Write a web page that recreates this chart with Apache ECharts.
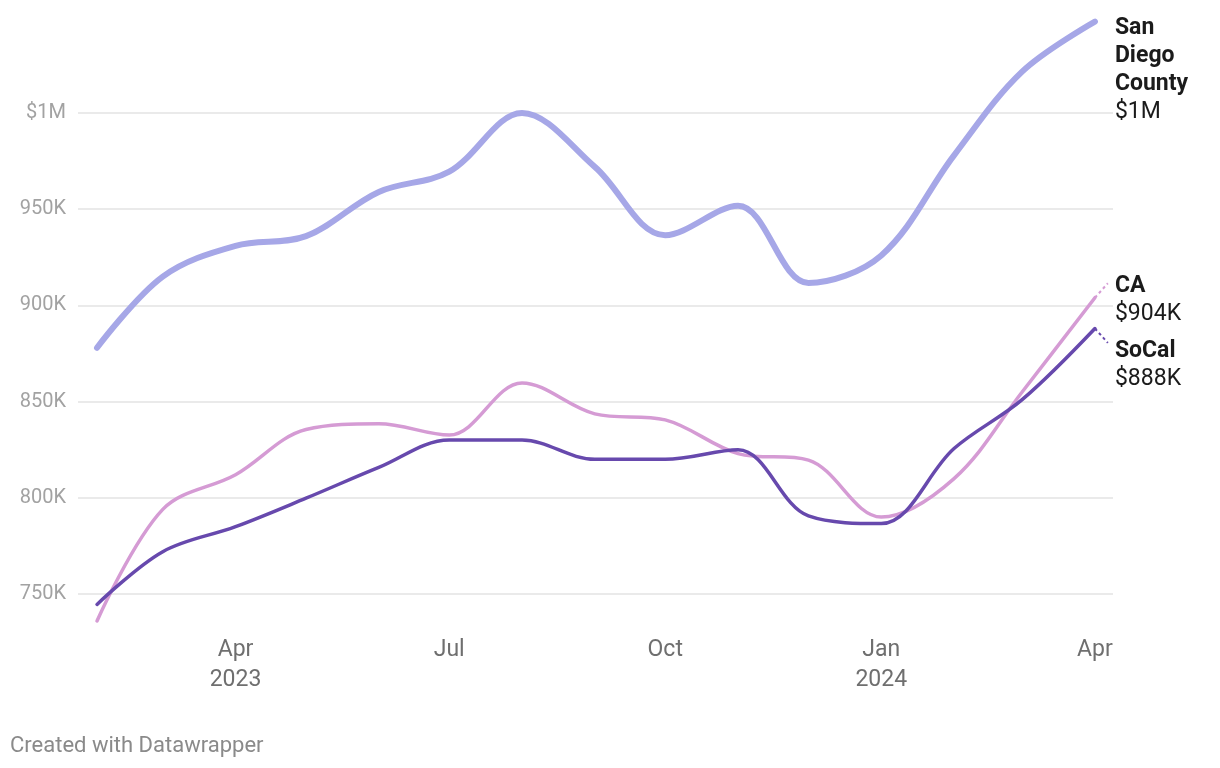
<!DOCTYPE html>
<html>
<head>
<meta charset="utf-8">
<script src="https://cdn.jsdelivr.net/npm/echarts@6/dist/echarts.min.js"></script>
<style>
html,body{margin:0;padding:0;background:#fff;}
#chart{width:1220px;height:768px;}
</style>
</head>
<body>
<div id="chart"></div>
<script>
// ---- data ----
const months = ['2023-02-01','2023-03-01','2023-04-01','2023-05-01','2023-06-01','2023-07-01','2023-08-01','2023-09-01','2023-10-01','2023-11-01','2023-12-01','2024-01-01','2024-02-01','2024-03-01','2024-04-01'];
const sanDiego = [878, 915, 931, 936, 959, 969.5, 1000, 972, 936.5, 951.8, 911.7, 926, 978, 1021.5, 1047.5];
const ca       = [736, 794, 812, 835.5, 838.5, 832.6, 859.7, 843.6, 840.5, 823, 819.6, 790, 810, 855, 904];
const soCal    = [744.6, 772, 785, 799.8, 815.8, 830, 830, 820, 820, 825, 790.6, 786.6, 825.6, 851, 888];
const seriesNames = ['San Diego County', 'CA', 'SoCal'];
const endValueLabels = ['$1M', '$904K', '$888K'];
const yTicks = [750, 800, 850, 900, 950, 1000];
const yTickLabels = ['750K', '800K', '850K', '900K', '950K', '$1M'];
const xTicks = ['2023-04-01','2023-07-01','2023-10-01','2024-01-01','2024-04-01'];
const xTickLabels = ['Apr\n2023', 'Jul', 'Oct', 'Jan\n2024', 'Apr'];

// ---- chart ----
const DAY = 86400000;
const ts = s => new Date(s + 'T00:00:00Z').getTime();
const xTickTs = xTicks.map(ts);
const pair = arr => months.map((m, i) => [ts(m), arr[i]]);
const lastT = ts(months[months.length - 1]);

const chart = echarts.init(document.getElementById('chart'), null, {renderer: 'canvas'});
const font = 'Roboto, "Noto Sans", sans-serif';

function endLabel(nameLines, valueText, offset) {
  return {
    show: true,
    position: 'right',
    distance: 0,
    offset: offset,
    formatter: nameLines.map(l => '{b|' + l + '}').join('\n') + '\n{v|' + valueText + '}',
    rich: {
      b: {fontFamily: font, fontSize: 23, fontWeight: 'bold', color: '#1b1b1b', lineHeight: 28},
      v: {fontFamily: font, fontSize: 23, color: '#1b1b1b', lineHeight: 28}
    }
  };
}

function connector(val, dy, color) {
  return {
    silent: true,
    symbol: 'none',
    label: {show: false},
    lineStyle: {color: color, type: [3, 3], width: 2},
    data: [[{coord: [lastT, val]}, {coord: [lastT + 5.5 * DAY, val + dy]}]]
  };
}

const smoothK = 0.35;

chart.setOption({
  animation: false,
  backgroundColor: '#fff',
  grid: {left: 78, right: 107, top: 16.8, bottom: 135.5, containLabel: false},
  xAxis: {
    type: 'value',
    scale: true,
    min: ts(months[0]) - 8.1 * DAY,
    max: lastT + 7.7 * DAY,
    axisLine: {show: false},
    axisTick: {show: false, customValues: xTickTs},
    splitLine: {show: false},
    axisLabel: {
      customValues: xTickTs,
      margin: 3,
      fontFamily: font,
      fontSize: 23,
      lineHeight: 30,
      color: '#6f6f6f',
      verticalAlign: 'top',
      formatter: function (v) {
        const i = xTickTs.indexOf(v);
        return i >= 0 ? xTickLabels[i] : '';
      }
    }
  },
  yAxis: {
    type: 'value',
    min: 730,
    max: 1050,
    axisLine: {show: false},
    axisTick: {show: false, customValues: yTicks},
    splitLine: {show: true, lineStyle: {color: '#e3e3e3', width: 1.5}},
    axisLabel: {
      customValues: yTicks,
      margin: 12,
      fontFamily: font,
      fontSize: 20,
      color: '#a2a2a2',
      padding: [3, 0, 0, 0],
      formatter: function (v) {
        const i = yTicks.indexOf(v);
        return i >= 0 ? yTickLabels[i] : '';
      }
    }
  },
  series: [
    {
      name: seriesNames[0], type: 'line', data: pair(sanDiego),
      smooth: smoothK, showSymbol: false, symbol: 'none',
      lineStyle: {color: '#a6a7e7', width: 6, cap: 'round'},
      itemStyle: {color: '#a6a7e7'},
      endLabel: endLabel(['San', 'Diego', 'County'], endValueLabels[0], [20, 49]),
      z: 2
    },
    {
      name: seriesNames[1], type: 'line', data: pair(ca),
      smooth: smoothK, showSymbol: false, symbol: 'none',
      lineStyle: {color: '#d59bd4', width: 3.5, cap: 'round'},
      itemStyle: {color: '#d59bd4'},
      endLabel: endLabel(['CA'], endValueLabels[1], [20, 3]),
      markLine: connector(ca[ca.length - 1], 7.5, '#d59bd4'),
      z: 3
    },
    {
      name: seriesNames[2], type: 'line', data: pair(soCal),
      smooth: smoothK, showSymbol: false, symbol: 'none',
      lineStyle: {color: '#6749ad', width: 3.5, cap: 'round'},
      itemStyle: {color: '#6749ad'},
      endLabel: endLabel(['SoCal'], endValueLabels[2], [20, 37]),
      markLine: connector(soCal[soCal.length - 1], -7.5, '#6749ad'),
      z: 4
    }
  ],
  graphic: [{
    type: 'text', left: 10, top: 735,
    style: {text: 'Created with Datawrapper', font: '22px ' + font, fill: '#8a8a8a'}
  }]
});
</script>
</body>
</html>
